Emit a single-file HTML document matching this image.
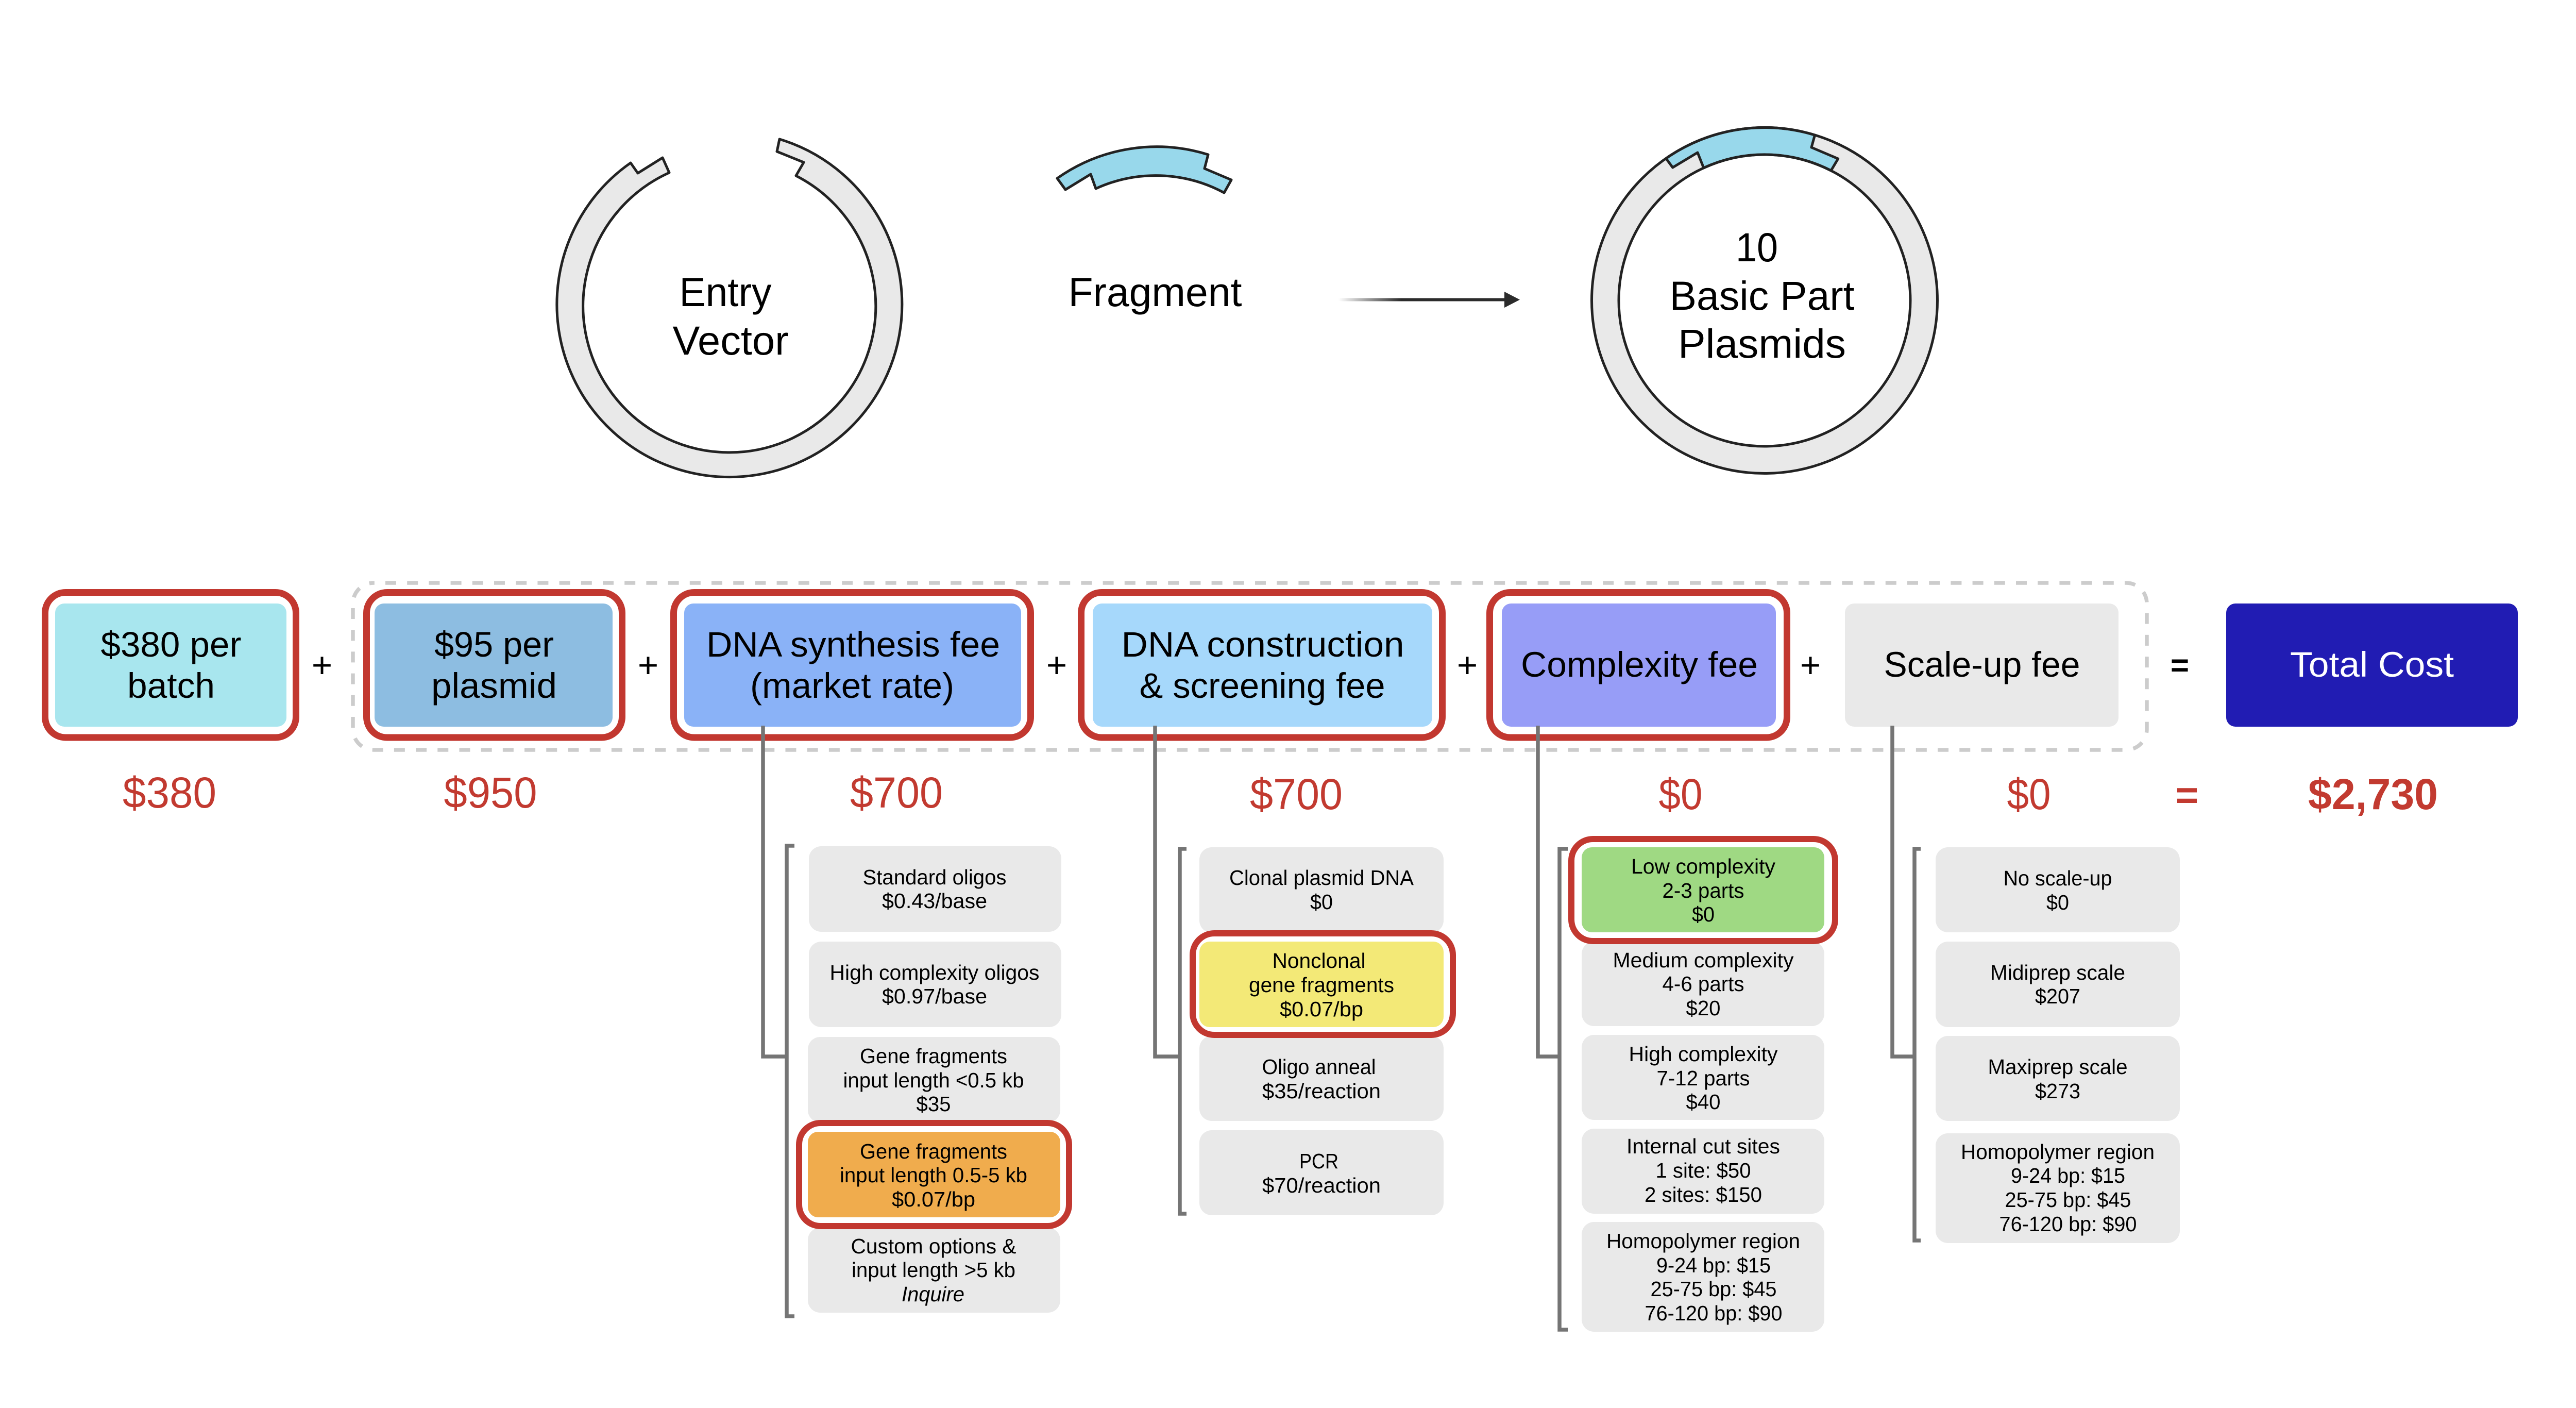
<!DOCTYPE html>
<html><head><meta charset="utf-8"><title>Cost diagram</title>
<style>
html,body{margin:0;padding:0;background:#fff}
svg{display:block}
text{font-family:"Liberation Sans",sans-serif;text-anchor:middle;fill:#000}
.t{font-size:79px}.h{font-size:69px}.r{font-size:84px;fill:#c23a30}.s{font-size:41px}
.box{fill:#e9e9e9}
.red{fill:#fff;stroke:#c23830;stroke-width:13}
.con{fill:none;stroke:#757575;stroke-width:7.5}
</style></head><body>
<svg xmlns="http://www.w3.org/2000/svg" width="5025" height="2732" viewBox="0 0 5025 2732">
<defs><linearGradient id="ag" gradientUnits="userSpaceOnUse" x1="2598" y1="0" x2="2720" y2="0"><stop offset="0" stop-color="#fff"/><stop offset="1" stop-color="#2b2b2b"/></linearGradient></defs>
<rect width="5025" height="2732" fill="#fff"/>

<!-- Entry vector -->
<path d="M1224,316 A335,335 0 1 0 1513,270 L1508,294 L1560,315 L1545,341 A284,284 0 1 1 1299,335 L1286,306 L1238,336 Z" fill="#e9e9e9" stroke="#222" stroke-width="5" stroke-linejoin="round"/>
<text class="t" x="1408" y="594" textLength="179" lengthAdjust="spacingAndGlyphs">Entry</text>
<text class="t" x="1418" y="688" textLength="225" lengthAdjust="spacingAndGlyphs">Vector</text>

<!-- Fragment -->
<path d="M2052,346 A335,335 0 0 1 2345,300 L2338,327 L2390,349 L2376,374 A280,280 0 0 0 2127,366 L2117,338 L2068,368 Z" fill="#98d8eb" stroke="#222" stroke-width="5" stroke-linejoin="round"/>
<text class="t" x="2242" y="594" textLength="337" lengthAdjust="spacingAndGlyphs">Fragment</text>

<!-- Arrow -->
<rect x="2598" y="578.5" width="325" height="6" fill="url(#ag)"/>
<path d="M2920,566 L2950,581.5 L2920,597 Z" fill="#2b2b2b"/>

<!-- Plasmid -->
<circle cx="3425" cy="583" r="309.25" fill="none" stroke="#e9e9e9" stroke-width="52.5"/>
<path d="M3233.7,307.4 A335.5,335.5 0 0 1 3522.6,262 L3516,286 L3567.7,308 L3554,331 A283,283 0 0 0 3306.8,325.8 L3295,296 L3246.7,325 Z" fill="#98d8eb" stroke="#222" stroke-width="5" stroke-linejoin="round"/>
<circle cx="3425" cy="583" r="335.5" fill="none" stroke="#222" stroke-width="5"/>
<circle cx="3425" cy="583" r="283" fill="none" stroke="#222" stroke-width="5"/>
<text class="t" x="3410" y="507" textLength="82" lengthAdjust="spacingAndGlyphs">10</text>
<text class="t" x="3420" y="601" textLength="359" lengthAdjust="spacingAndGlyphs">Basic Part</text>
<text class="t" x="3420" y="694" textLength="326" lengthAdjust="spacingAndGlyphs">Plasmids</text>

<!-- Dashed group -->
<rect x="685" y="1131" width="3482" height="324" rx="40" ry="40" fill="none" stroke="#cccccc" stroke-width="7.5" stroke-dasharray="21 21.2" stroke-dashoffset="19.2"/>

<!-- Header boxes -->
<rect class="red" x="87.5" y="1149.5" width="487" height="281.5" rx="40"/>
<rect x="107" y="1171" width="449" height="239" rx="18" fill="#a8e6ee"/>
<rect class="red" x="711.5" y="1149.5" width="496" height="281.5" rx="40"/>
<rect x="727" y="1171" width="462" height="239" rx="18" fill="#8dbde1"/>
<rect class="red" x="1307.5" y="1149.5" width="693" height="281.5" rx="40"/>
<rect x="1328" y="1171" width="654" height="239" rx="18" fill="#8ab2f7"/>
<rect class="red" x="2098.5" y="1149.5" width="701" height="281.5" rx="40"/>
<rect x="2121" y="1171" width="659" height="239" rx="18" fill="#a6d8fb"/>
<rect class="red" x="2891.5" y="1149.5" width="577" height="281.5" rx="40"/>
<rect x="2915" y="1171" width="532" height="239" rx="18" fill="#979df7"/>
<rect class="box" x="3581" y="1171" width="531" height="239" rx="18"/>
<rect x="4321" y="1171" width="566" height="239" rx="18" fill="#211cb3"/>

<!-- Connectors -->
<path class="con" d="M1481,1408 V2050 H1527"/>
<path class="con" d="M1542,1641 H1527 V2554 H1542"/>
<path class="con" d="M2242,1408 V2050 H2290"/>
<path class="con" d="M2303,1647 H2290 V2355 H2303"/>
<path class="con" d="M2985,1408 V2050 H3027"/>
<path class="con" d="M3043,1647 H3027 V2580 H3043"/>
<path class="con" d="M3673,1408 V2050 H3716"/>
<path class="con" d="M3728,1647 H3716 V2407 H3728"/>

<!-- Header labels -->
<text class="h" x="332" y="1274" textLength="273" lengthAdjust="spacingAndGlyphs">$380 per</text>
<text class="h" x="332" y="1354" textLength="170" lengthAdjust="spacingAndGlyphs">batch</text>
<text class="h" x="959" y="1274" textLength="232" lengthAdjust="spacingAndGlyphs">$95 per</text>
<text class="h" x="959" y="1354" textLength="244" lengthAdjust="spacingAndGlyphs">plasmid</text>
<text class="h" x="1656" y="1274" textLength="570" lengthAdjust="spacingAndGlyphs">DNA synthesis fee</text>
<text class="h" x="1654" y="1354" textLength="396" lengthAdjust="spacingAndGlyphs">(market rate)</text>
<text class="h" x="2451" y="1274" textLength="549" lengthAdjust="spacingAndGlyphs">DNA construction</text>
<text class="h" x="2450" y="1354" textLength="477" lengthAdjust="spacingAndGlyphs">&amp; screening fee</text>
<text class="h" x="3182" y="1313" textLength="460" lengthAdjust="spacingAndGlyphs">Complexity fee</text>
<text class="h" x="3847" y="1313" textLength="381" lengthAdjust="spacingAndGlyphs">Scale-up fee</text>
<text class="h" x="4604" y="1313" textLength="318" lengthAdjust="spacingAndGlyphs" style="fill:#fff">Total Cost</text>

<text class="h" x="625" y="1314">+</text>
<text class="h" x="1258" y="1314">+</text>
<text class="h" x="2051" y="1314">+</text>
<text class="h" x="2848" y="1314">+</text>
<text class="h" x="3514" y="1314">+</text>
<text class="h" x="4231" y="1312" font-weight="bold" style="font-size:62px">=</text>

<!-- Totals -->
<text class="r" x="329" y="1567" textLength="182" lengthAdjust="spacingAndGlyphs">$380</text>
<text class="r" x="952" y="1567" textLength="181" lengthAdjust="spacingAndGlyphs">$950</text>
<text class="r" x="1740" y="1567" textLength="180" lengthAdjust="spacingAndGlyphs">$700</text>
<text class="r" x="2516" y="1570" textLength="180" lengthAdjust="spacingAndGlyphs">$700</text>
<text class="r" x="3262" y="1570" textLength="85" lengthAdjust="spacingAndGlyphs">$0</text>
<text class="r" x="3938" y="1570" textLength="85" lengthAdjust="spacingAndGlyphs">$0</text>
<text class="r" x="4245" y="1569" font-weight="bold" style="font-size:76px">=</text>
<text class="r" x="4606" y="1570" font-weight="bold" textLength="252" lengthAdjust="spacingAndGlyphs">$2,730</text>

<!-- Column 1 -->
<rect class="box" x="1570" y="1642" width="490" height="166" rx="24"/>
<rect class="box" x="1570" y="1827" width="490" height="166" rx="24"/>
<rect class="box" x="1568" y="2012" width="490" height="166" rx="24"/>
<rect class="box" x="1568" y="2382" width="490" height="165" rx="24"/>
<rect class="red" x="1551" y="2179" width="524" height="200" rx="42" style="stroke-width:12"/>
<rect x="1568" y="2196" width="490" height="166" rx="20" fill="#f0ac4d"/>
<text class="s" x="1814" y="1716" textLength="279" lengthAdjust="spacingAndGlyphs">Standard oligos</text>
<text class="s" x="1814" y="1762" textLength="204" lengthAdjust="spacingAndGlyphs">$0.43/base</text>
<text class="s" x="1814" y="1901" textLength="407" lengthAdjust="spacingAndGlyphs">High complexity oligos</text>
<text class="s" x="1814" y="1947" textLength="204" lengthAdjust="spacingAndGlyphs">$0.97/base</text>
<text class="s" x="1812" y="2063" textLength="286" lengthAdjust="spacingAndGlyphs">Gene fragments</text>
<text class="s" x="1812" y="2110" textLength="351" lengthAdjust="spacingAndGlyphs">input length &lt;0.5 kb</text>
<text class="s" x="1812" y="2156" textLength="67" lengthAdjust="spacingAndGlyphs">$35</text>
<text class="s" x="1812" y="2248" textLength="286" lengthAdjust="spacingAndGlyphs">Gene fragments</text>
<text class="s" x="1812" y="2294" textLength="364" lengthAdjust="spacingAndGlyphs">input length 0.5-5 kb</text>
<text class="s" x="1812" y="2341" textLength="162" lengthAdjust="spacingAndGlyphs">$0.07/bp</text>
<text class="s" x="1812" y="2432" textLength="321" lengthAdjust="spacingAndGlyphs">Custom options &amp;</text>
<text class="s" x="1812" y="2478" textLength="318" lengthAdjust="spacingAndGlyphs">input length &gt;5 kb</text>
<text class="s" x="1811" y="2525" font-style="italic" textLength="122" lengthAdjust="spacingAndGlyphs">Inquire</text>

<!-- Column 2 -->
<rect class="box" x="2328" y="1644" width="474" height="166" rx="24"/>
<rect class="box" x="2328" y="2010" width="474" height="165" rx="24"/>
<rect class="box" x="2328" y="2193" width="474" height="165" rx="24"/>
<rect class="red" x="2315" y="1811" width="505" height="197" rx="42" style="stroke-width:12"/>
<rect x="2328" y="1827" width="474" height="166" rx="20" fill="#f3e977"/>
<text class="s" x="2565" y="1717" textLength="358" lengthAdjust="spacingAndGlyphs">Clonal plasmid DNA</text>
<text class="s" x="2565" y="1764" textLength="44" lengthAdjust="spacingAndGlyphs">$0</text>
<text class="s" x="2560" y="1878" textLength="181" lengthAdjust="spacingAndGlyphs">Nonclonal</text>
<text class="s" x="2565" y="1925" textLength="282" lengthAdjust="spacingAndGlyphs">gene fragments</text>
<text class="s" x="2565" y="1972" textLength="162" lengthAdjust="spacingAndGlyphs">$0.07/bp</text>
<text class="s" x="2560" y="2084" textLength="221" lengthAdjust="spacingAndGlyphs">Oligo anneal</text>
<text class="s" x="2565" y="2131" textLength="230" lengthAdjust="spacingAndGlyphs">$35/reaction</text>
<text class="s" x="2560" y="2267" textLength="76" lengthAdjust="spacingAndGlyphs">PCR</text>
<text class="s" x="2565" y="2314" textLength="230" lengthAdjust="spacingAndGlyphs">$70/reaction</text>

<!-- Column 3 -->
<rect class="box" x="3070" y="1827" width="471" height="164" rx="24"/>
<rect class="box" x="3070" y="2008" width="471" height="165" rx="24"/>
<rect class="box" x="3070" y="2190" width="471" height="165" rx="24"/>
<rect class="box" x="3070" y="2371" width="471" height="213" rx="24"/>
<rect class="red" x="3050" y="1628" width="512" height="198" rx="42" style="stroke-width:12"/>
<rect x="3070" y="1644" width="471" height="165" rx="20" fill="#9fd983"/>
<text class="s" x="3306" y="1695" textLength="280" lengthAdjust="spacingAndGlyphs">Low complexity</text>
<text class="s" x="3306" y="1742" textLength="159" lengthAdjust="spacingAndGlyphs">2-3 parts</text>
<text class="s" x="3306" y="1788" textLength="44" lengthAdjust="spacingAndGlyphs">$0</text>
<text class="s" x="3306" y="1877" textLength="351" lengthAdjust="spacingAndGlyphs">Medium complexity</text>
<text class="s" x="3306" y="1923" textLength="159" lengthAdjust="spacingAndGlyphs">4-6 parts</text>
<text class="s" x="3306" y="1970" textLength="67" lengthAdjust="spacingAndGlyphs">$20</text>
<text class="s" x="3306" y="2059" textLength="289" lengthAdjust="spacingAndGlyphs">High complexity</text>
<text class="s" x="3306" y="2106" textLength="181" lengthAdjust="spacingAndGlyphs">7-12 parts</text>
<text class="s" x="3306" y="2152" textLength="67" lengthAdjust="spacingAndGlyphs">$40</text>
<text class="s" x="3306" y="2238" textLength="298" lengthAdjust="spacingAndGlyphs">Internal cut sites</text>
<text class="s" x="3306" y="2285" textLength="185" lengthAdjust="spacingAndGlyphs">1 site: $50</text>
<text class="s" x="3306" y="2332" textLength="228" lengthAdjust="spacingAndGlyphs">2 sites: $150</text>
<text class="s" x="3306" y="2422" textLength="376" lengthAdjust="spacingAndGlyphs">Homopolymer region</text>
<text class="s" x="3326" y="2469" textLength="222" lengthAdjust="spacingAndGlyphs">9-24 bp: $15</text>
<text class="s" x="3326" y="2515" textLength="245" lengthAdjust="spacingAndGlyphs">25-75 bp: $45</text>
<text class="s" x="3326" y="2562" textLength="267" lengthAdjust="spacingAndGlyphs">76-120 bp: $90</text>

<!-- Column 4 -->
<rect class="box" x="3757" y="1644" width="474" height="165" rx="24"/>
<rect class="box" x="3757" y="1827" width="474" height="166" rx="24"/>
<rect class="box" x="3757" y="2010" width="474" height="165" rx="24"/>
<rect class="box" x="3757" y="2199" width="474" height="213" rx="24"/>
<text class="s" x="3994" y="1718" textLength="211" lengthAdjust="spacingAndGlyphs">No scale-up</text>
<text class="s" x="3994" y="1765" textLength="44" lengthAdjust="spacingAndGlyphs">$0</text>
<text class="s" x="3994" y="1901" textLength="262" lengthAdjust="spacingAndGlyphs">Midiprep scale</text>
<text class="s" x="3994" y="1947" textLength="88" lengthAdjust="spacingAndGlyphs">$207</text>
<text class="s" x="3994" y="2084" textLength="271" lengthAdjust="spacingAndGlyphs">Maxiprep scale</text>
<text class="s" x="3994" y="2131" textLength="88" lengthAdjust="spacingAndGlyphs">$273</text>
<text class="s" x="3994" y="2249" textLength="376" lengthAdjust="spacingAndGlyphs">Homopolymer region</text>
<text class="s" x="4014" y="2295" textLength="222" lengthAdjust="spacingAndGlyphs">9-24 bp: $15</text>
<text class="s" x="4014" y="2342" textLength="245" lengthAdjust="spacingAndGlyphs">25-75 bp: $45</text>
<text class="s" x="4014" y="2389" textLength="267" lengthAdjust="spacingAndGlyphs">76-120 bp: $90</text>
</svg>
</body></html>
